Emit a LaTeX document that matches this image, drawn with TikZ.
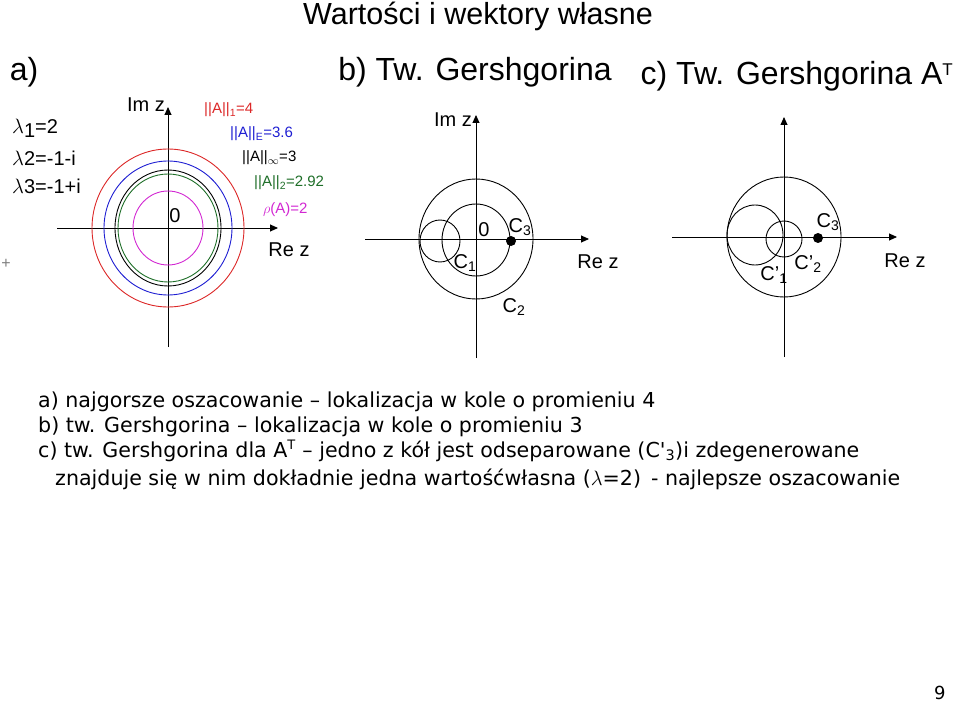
\documentclass[tikz,border=0pt]{standalone}
\usepackage{fontspec}
\setmainfont{Liberation Sans}
\newfontfamily\dejavu{DejaVu Sans}
\usetikzlibrary{arrows.meta}
\definecolor{cred}{RGB}{220,40,40}
\definecolor{cblue}{RGB}{30,30,210}
\definecolor{cgreen}{RGB}{30,110,40}
\definecolor{cmag}{RGB}{210,40,210}
\tikzset{ax/.style={-{Triangle[length=8pt,width=7pt]},line width=0.9pt},
circ/.style={line width=0.9pt},
lab/.style={inner sep=0pt,font=\fontsize{20}{22}\selectfont},
small/.style={inner sep=0pt,font=\fontsize{15}{16}\selectfont},
big/.style={inner sep=0pt,font=\fontsize{32}{36}\selectfont},
txt/.style={inner sep=0pt,anchor=west,font=\dejavu\fontsize{20.6}{24}\selectfont}}
\begin{document}
\begin{tikzpicture}[x=1pt,y=-1pt]
\useasboundingbox (0,0) rectangle (960,703);
\node[inner sep=0pt,font=\fontsize{30.5}{34}\selectfont] (title) at (478,16) {Wartości i wektory własne};
% a)
\node[big] (ta) at (24,72) {a)};
\coordinate (a0) at (168,228);
\coordinate (axl) at (57,228); \coordinate (axr) at (278,228);
\coordinate (ayb) at (168,347); \coordinate (ayt) at (168,107);
\draw[ax] (axl) -- (axr);
\draw[ax] (ayb) -- (ayt);
\draw[circ,cred] (a0) ellipse [x radius=76,y radius=79];
\draw[circ,cblue] (a0) ellipse [x radius=64,y radius=67];
\draw[circ,black] (a0) ellipse [x radius=53,y radius=58];
\draw[circ,cgreen] (a0) ellipse [x radius=50,y radius=54];
\draw[circ,cmag] (a0) ellipse [x radius=35,y radius=37];
\node[lab] (aim) at (146,105) {Im z};
\node[lab] (a0l) at (175,216) {0};
\node[lab] (are) at (289,250) {Re z};
\node[lab,anchor=west] (l1) at (12,128) {$\lambda$\raisebox{-4pt}{1}=2};
\node[lab,anchor=west] (l2) at (12,158) {$\lambda$2=-1-i};
\node[lab,anchor=west] (l3) at (12,186) {$\lambda$3=-1+i};
\node[small,cred,anchor=west] (n1) at (204,110) {||A||\textsubscript{1}=4};
\node[small,cblue,anchor=west] (nE) at (230,134) {||A||\textsubscript{E}=3.6};
\node[small,anchor=west] (ni) at (242,158) {||A||\textsubscript{$\infty$}=3};
\node[small,cgreen,anchor=west] (n2) at (254,183) {||A||\textsubscript{2}=2.92};
\node[small,cmag,anchor=west] (nr) at (263,210) {$\rho$(A)=2};
\node[inner sep=0pt,font=\fontsize{16}{18}\selectfont,gray] (plus) at (6,264) {+};
% b)
\node[big] (tb) at (475,72) {b) Tw. Gershgorina};
\coordinate (bxl) at (365,239); \coordinate (bxr) at (589,239);
\coordinate (byb) at (476,358); \coordinate (byt) at (476,115);
\draw[ax] (bxl) -- (bxr);
\draw[ax] (byb) -- (byt);
\draw[circ] (476,239) ellipse [x radius=57,y radius=60];
\draw[circ] (476,240) ellipse [x radius=34,y radius=36];
\draw[circ] (440,241) ellipse [x radius=20,y radius=21];
\fill (511,241) circle (5);
\node[lab] (bim) at (453,120) {Im z};
\node[lab] (b0l) at (484,230) {0};
\node[lab] (bc3) at (520,227) {C\textsubscript{3}};
\node[lab] (bc1) at (465,263) {C\textsubscript{1}};
\node[lab] (bc2) at (514,307) {C\textsubscript{2}};
\node[lab] (bre) at (598,262) {Re z};
% c)
\node[big] (tc) at (797,76) {c) Tw. Gershgorina A\textsuperscript{\fontsize{17}{18}\selectfont T}};
\coordinate (cxl) at (672,237); \coordinate (cxr) at (897,237);
\coordinate (cyb) at (784,357); \coordinate (cyt) at (784,117);
\draw[ax] (cxl) -- (cxr);
\draw[ax] (cyb) -- (cyt);
\draw[circ] (784,237) ellipse [x radius=57,y radius=60];
\draw[circ] (755,235) ellipse [x radius=28,y radius=30];
\draw[circ] (784,239) ellipse [x radius=18,y radius=18];
\fill (818,238) circle (5);
\node[lab] (cc3) at (828,222) {C\textsubscript{3}};
\node[lab] (cc1) at (774,275) {C'\textsubscript{1}};
\node[lab] (cc2) at (808,264) {C'\textsubscript{2}};
\node[lab] (cre) at (905,261) {Re z};
% text
\node[txt] (t1) at (38,402) {a) najgorsze oszacowanie – lokalizacja w kole o promieniu 4};
\node[txt] (t2) at (38,427) {b) tw. Gershgorina – lokalizacja w kole o promieniu 3};
\node[txt] (t3) at (38,451) {c) tw. Gershgorina dla A\textsuperscript{\fontsize{13}{14}\selectfont T} – jedno z kół jest odseparowane (C'\textsubscript{3})i zdegenerowane};
\node[txt] (t4) at (55,479) {znajduje się w nim dokładnie jedna wartośćwłasna ($\lambda$=2)\, - najlepsze oszacowanie};
\node[txt,font=\dejavu\fontsize{18}{20}\selectfont] (pg) at (934,693) {9};
\end{tikzpicture}
\end{document}
